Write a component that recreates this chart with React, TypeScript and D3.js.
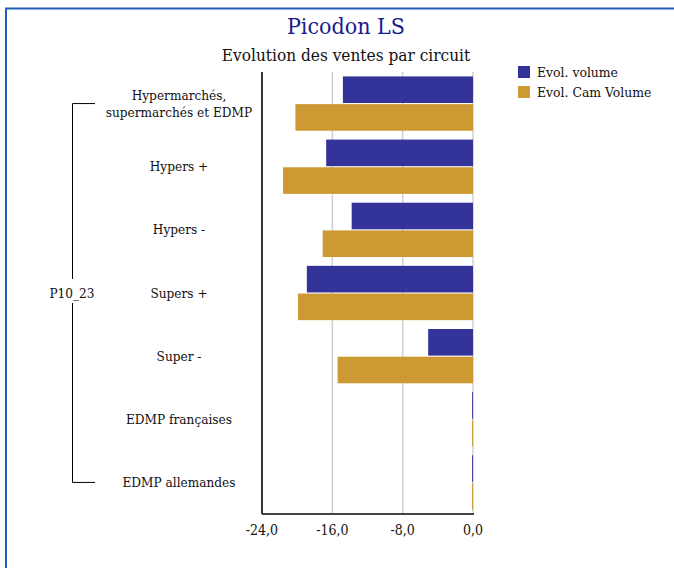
import React from "react";
import * as d3 from "d3";

const categories = [
  ["Hypermarchés,", "supermarchés et EDMP"],
  ["Hypers +"],
  ["Hypers -"],
  ["Supers +"],
  ["Super -"],
  ["EDMP françaises"],
  ["EDMP allemandes"],
];
const seriesNames = ["Evol. volume", "Evol. Cam Volume"];
const evolVolume = [-14.8, -16.7, -13.8, -18.9, -5.1, -0.1, -0.1];
const evolCamVolume = [-20.2, -21.6, -17.1, -19.9, -15.4, -0.1, -0.1];
const xTicks = [-24, -16, -8, 0];
const groupLabel = "P10_23";
const colors = ["#333399", "#CC9933"];

const FONT = "'DejaVu Serif', serif";

export default function App() {
  const W = 674, H = 568;
  const x = d3.scaleLinear().domain([-24, 0]).range([262, 473]);
  const idx = categories.map((_, i) => String(i));
  const y = d3.scaleBand<string>().domain(idx).range([72, 514]).paddingInner(0.14).paddingOuter(0.07);
  const ys = d3.scaleBand<string>().domain(["0", "1"]).range([0, y.bandwidth()]).paddingInner(0.04);
  const series = [evolVolume, evolCamVolume];
  const fmt = (v: number) => d3.format(".1f")(v).replace(".", ",").replace("−", "-");
  const firstC = y("0")! + y.bandwidth() / 2;
  const lastC = y(String(categories.length - 1))! + y.bandwidth() / 2;
  const midC = y("3")! + y.bandwidth() / 2;
  return (
    <svg width={W} height={H} style={{ position: "absolute", left: 0, top: 0, fontFamily: FONT, fontStretch: "condensed" }}>
      <rect x={0} y={0} width={W} height={H} fill="#fff" />
      <rect x={6} y={8.5} width={W + 10} height={H + 10} fill="none" stroke="#1f5fb5" strokeWidth={2} />
      <text x={346} y={34} textAnchor="middle" fontSize={23} fill="#1a1a8c">Picodon LS</text>
      <text x={346} y={61} textAnchor="middle" fontSize={17.1} fill="#111">Evolution des ventes par circuit</text>
      {xTicks.map((t) => (
        <line key={t} x1={x(t)} x2={x(t)} y1={72} y2={514} stroke="#d0d0d0" strokeWidth={1.5} />
      ))}
      {series.map((vals, s) =>
        vals.map((v, i) => (
          <rect key={s + "-" + i} x={x(v)} y={y(String(i))! + ys(String(s))!} width={x(0) - x(v)} height={ys.bandwidth()} fill={colors[s]} />
        ))
      )}
      <line x1={262} x2={262} y1={72} y2={514} stroke="#000" strokeWidth={1.5} />
      <line x1={262} x2={474} y1={514} y2={514} stroke="#444" strokeWidth={2} />
      {xTicks.map((t) => (
        <text key={t} x={x(t)} y={535} textAnchor="middle" fontSize={14} fill="#111">{fmt(t)}</text>
      ))}
      {categories.map((lines, i) => {
        const c = y(String(i))! + y.bandwidth() / 2;
        return (
          <text key={i} x={179} textAnchor="middle" fontSize={13.5} fill="#111">
            {lines.map((l, j) => (
              <tspan key={j} x={179} y={c + 4.5 + (j - (lines.length - 1) / 2) * 17}>{l}</tspan>
            ))}
          </text>
        );
      })}
      <path d={`M95,${firstC}H72.5V${midC - 14}M72.5,${midC + 10}V${lastC}H95`} fill="none" stroke="#000" strokeWidth={1} />
      <text x={72} y={midC + 4.5} textAnchor="middle" fontSize={13.5} fill="#111">{groupLabel}</text>
      {seriesNames.map((n, s) => (
        <g key={n}>
          <rect x={518} y={66 + s * 20} width={12} height={12} fill={colors[s]} />
          <text x={537} y={77 + s * 20} fontSize={13.8} fill="#111">{n}</text>
        </g>
      ))}
    </svg>
  );
}
